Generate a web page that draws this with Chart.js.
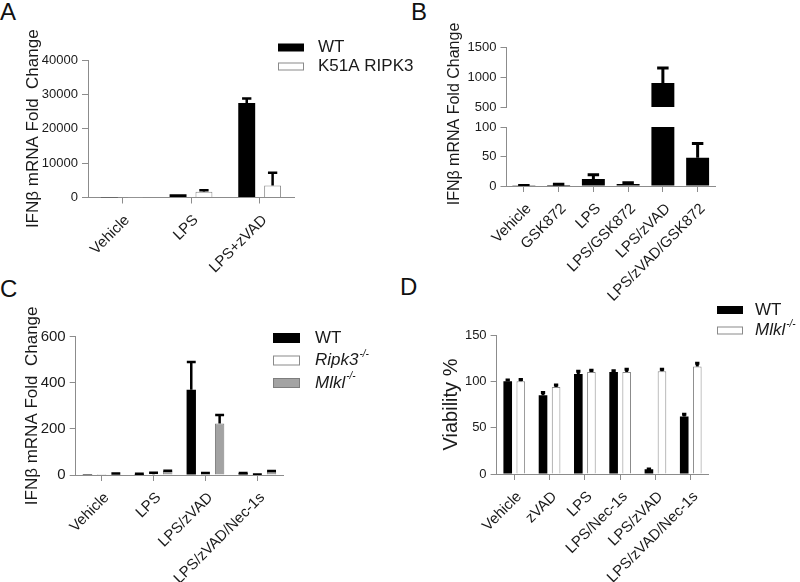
<!DOCTYPE html>
<html>
<head>
<meta charset="utf-8">
<script src="https://cdn.jsdelivr.net/npm/chart.js@4.4.1/dist/chart.umd.min.js"></script>
<style>
  body { margin: 0; background: #fff; }
  #page { position: relative; width: 800px; height: 582px; overflow: hidden; font-family: "Liberation Sans", Arial, sans-serif; color: #111; }
  canvas { position: absolute; }
  .letter { position: absolute; font-size: 24px; line-height: 24px; }
</style>
</head>
<body>
<div id="page">
  <div class="letter" style="left:0px;top:0px">A</div>
  <div class="letter" style="left:411px;top:0px">B</div>
  <div class="letter" style="left:0px;top:277px">C</div>
  <div class="letter" style="left:400px;top:275px">D</div>
  <canvas id="chartA" width="420" height="340" style="left:0;top:0"></canvas>
  <canvas id="chartBtop" width="400" height="330" style="left:400px;top:0"></canvas>
  <canvas id="chartB" width="400" height="330" style="left:400px;top:0"></canvas>
  <canvas id="chartC" width="400" height="320" style="left:0;top:291px"></canvas>
  <canvas id="chartD" width="400" height="320" style="left:400px;top:291px"></canvas>
</div>
<script>
// panel A
const categoriesA = ['Vehicle', 'LPS', 'LPS+zVAD'];
const wtA = [1, 950, 27500];
const wtErrA = [0, 0, 1300];
const k51A = [1, 1650, 3500];
const k51ErrA = [0, 480, 3700];
const yTicksA = [0, 10000, 20000, 30000, 40000];

// panel B (broken axis)
const categoriesB = ['Vehicle', 'GSK872', 'LPS', 'LPS/GSK872', 'LPS/zVAD', 'LPS/zVAD/GSK872'];
const valuesB = [0.5, 1.5, 12, 3.5, 900, 48];
const errorsB = [0.3, 1.5, 7, 2, 250, 24];
const yTicksBtop = [500, 1000, 1500];
const yTicksB = [0, 50, 100];

// panel C
const categoriesC = ['Vehicle', 'LPS', 'LPS/zVAD', 'LPS/zVAD/Nec-1s'];
const wtC = [0.5, 4, 370, 8];
const wtErrC = [0, 1, 120, 1];
const ripkC = [0.5, 3, 4, 2];
const ripkErrC = [0, 7, 5, 0.5];
const mlklC = [2, 17, 223, 16];
const mlklErrC = [4, 1, 37, 1];
const yTicksC = [0, 200, 400, 600];

// panel D
const categoriesD = ['Vehicle', 'zVAD', 'LPS', 'LPS/Nec-1s', 'LPS/zVAD', 'LPS/zVAD/Nec-1s'];
const wtD = [100, 85, 108, 110, 5, 62];
const wtErrD = [1.5, 3, 3, 1.5, 0.5, 2.5];
const mlklD = [100, 94, 110, 110, 111, 116];
const mlklErrD = [2, 2, 2, 3, 2, 3.5];
const yTicksD = [0, 50, 100, 150];

const FONT = '"Liberation Sans", Arial, sans-serif';
const INK = '#1a1a1a';
const AXIS = '#8c8c8c';
const X_AXIS_H = 130;

// upward error bars with a cap
const errorBars = {
  id: 'errorBars',
  afterDatasetsDraw(chart, args, opts) {
    const { ctx, chartArea: a } = chart;
    const y = chart.scales.y;
    ctx.save();
    ctx.beginPath();
    ctx.rect(a.left, a.top - 2, a.right - a.left, a.bottom - a.top + 2);
    ctx.clip();
    ctx.strokeStyle = '#000';
    ctx.lineWidth = opts.width;
    chart.data.datasets.forEach((ds, i) => {
      if (!ds.errors) return;
      chart.getDatasetMeta(i).data.forEach((bar, j) => {
        const e = ds.errors[j];
        if (!e) return;
        const top = y.getPixelForValue(ds.data[j] + e);
        const half = bar.width * opts.cap / 2;
        ctx.beginPath();
        ctx.moveTo(bar.x, bar.y);
        ctx.lineTo(bar.x, top);
        ctx.moveTo(bar.x - half, top);
        ctx.lineTo(bar.x + half, top);
        ctx.stroke();
      });
    });
    ctx.restore();
  }
};

// legend boxes at a fixed spot, with italic names and superscripts
const boxLegend = {
  id: 'boxLegend',
  afterDraw(chart, args, o) {
    const ctx = chart.ctx;
    ctx.save();
    chart.data.datasets.forEach((ds, i) => {
      const cy = o.y + i * o.row;
      ctx.fillStyle = ds.backgroundColor;
      ctx.fillRect(o.x, cy - o.boxH / 2, o.boxW, o.boxH);
      if (ds.borderWidth) {
        ctx.strokeStyle = ds.borderColor;
        ctx.lineWidth = 1;
        ctx.strokeRect(o.x + 0.5, cy - o.boxH / 2 + 0.5, o.boxW - 1, o.boxH - 1);
      }
      const style = ds.italic ? 'italic ' : '';
      const tx = o.x + o.boxW + o.gap;
      ctx.fillStyle = INK;
      ctx.textAlign = 'left';
      ctx.textBaseline = 'middle';
      ctx.font = style + o.size + 'px ' + FONT;
      ctx.fillText(ds.label, tx, cy);
      if (ds.sup) {
        const w = ctx.measureText(ds.label).width;
        ctx.font = style + Math.round(o.size * 0.6) + 'px ' + FONT;
        ctx.fillText(ds.sup, tx + w + 1, cy - o.size * 0.38);
      }
    });
    ctx.restore();
  }
};

// axis title for the broken axis, spanning both segments
const sideTitle = {
  id: 'sideTitle',
  afterDraw(chart, args, o) {
    const ctx = chart.ctx;
    ctx.save();
    ctx.translate(o.x, o.y);
    ctx.rotate(-Math.PI / 2);
    ctx.fillStyle = INK;
    ctx.font = o.size + 'px ' + FONT;
    ctx.textAlign = 'center';
    ctx.textBaseline = 'middle';
    ctx.fillText(o.text, 0, 0);
    ctx.restore();
  }
};

Chart.register(errorBars, boxLegend, sideTitle);

function panel(c) {
  return {
    responsive: false,
    animation: false,
    layout: { padding: { left: c.padL, top: c.padT, right: c.padR, bottom: c.padB } },
    plugins: {
      legend: { display: false },
      tooltip: { enabled: false },
      errorBars: { cap: c.cap, width: c.lw },
      boxLegend: c.legend || false,
      sideTitle: c.side || false
    },
    scales: {
      x: {
        display: c.showX !== false,
        grid: { display: true, offset: false, drawOnChartArea: false, drawTicks: true, tickLength: 6, color: AXIS },
        border: { color: AXIS },
        ticks: { color: INK, font: { size: 15, family: FONT }, minRotation: 45, maxRotation: 45, autoSkip: false, padding: 8, labelOffset: 5 },
        afterFit: s => { if (s.options.display) s.height = X_AXIS_H; }
      },
      y: {
        min: c.ticks[0],
        max: c.ticks[c.ticks.length - 1],
        afterBuildTicks: s => { s.ticks = c.ticks.map(v => ({ value: v })); },
        grid: { display: true, drawOnChartArea: false, drawTicks: true, tickLength: 6, color: AXIS },
        border: { color: AXIS },
        ticks: { color: INK, font: { size: c.tickSize, family: FONT }, padding: 4, callback: v => String(v) },
        title: c.title
          ? { display: true, text: c.title, color: INK, padding: 0, font: { size: c.titleSize, family: FONT } }
          : { display: false },
        afterFit: s => { s.width = c.yW; }
      }
    }
  };
}

const black = { backgroundColor: '#000', borderWidth: 0, clip: 0 };
const white = { backgroundColor: '#fff', borderColor: '#8a8a8a', borderWidth: 1, clip: 0 };
const grey = { backgroundColor: '#a3a3a3', borderColor: '#7d7d7d', borderWidth: 1, clip: 0 };

// A
new Chart(document.getElementById('chartA'), {
  type: 'bar',
  data: {
    labels: categoriesA,
    datasets: [
      Object.assign({ label: 'WT', data: wtA, errors: wtErrA, categoryPercentage: 0.754, barPercentage: 0.654 }, black),
      Object.assign({ label: 'K51A RIPK3', data: k51A, errors: k51ErrA, categoryPercentage: 0.754, barPercentage: 0.654 }, white)
    ]
  },
  options: panel({
    padL: 22.8, yW: 65.2, padT: 60, padR: 126, padB: 340 - 197.5 - X_AXIS_H,
    ticks: yTicksA, tickSize: 13, title: 'IFNβ mRNA Fold  Change', titleSize: 17,
    cap: 0.55, lw: 2.5,
    legend: { x: 278, y: 47.5, row: 19, boxW: 26, boxH: 8, gap: 14, size: 17 }
  })
});

// B upper segment
new Chart(document.getElementById('chartBtop'), {
  type: 'bar',
  data: {
    labels: categoriesB,
    datasets: [Object.assign({ label: 'IFNβ', data: valuesB, errors: errorsB, categoryPercentage: 1, barPercentage: 0.66 }, black)]
  },
  options: panel({
    padL: 0, yW: 106.5, padT: 47, padR: 85, padB: 330 - 107, showX: false,
    ticks: yTicksBtop, tickSize: 13, cap: 0.5, lw: 3
  })
});

// B lower segment
new Chart(document.getElementById('chartB'), {
  type: 'bar',
  data: {
    labels: categoriesB,
    datasets: [Object.assign({ label: 'IFNβ', data: valuesB, errors: errorsB, categoryPercentage: 1, barPercentage: 0.66 }, black)]
  },
  options: panel({
    padL: 0, yW: 106.5, padT: 127, padR: 85, padB: 330 - 186 - X_AXIS_H,
    ticks: yTicksB, tickSize: 13, cap: 0.5, lw: 3,
    side: { text: 'IFNβ mRNA Fold Change', x: 55, y: 114, size: 16 }
  })
});

// C
new Chart(document.getElementById('chartC'), {
  type: 'bar',
  data: {
    labels: categoriesC,
    datasets: [
      Object.assign({ label: 'WT', data: wtC, errors: wtErrC, categoryPercentage: 0.82, barPercentage: 0.66 }, black),
      Object.assign({ label: 'Ripk3', sup: '-/-', italic: true, data: ripkC, errors: ripkErrC, categoryPercentage: 0.82, barPercentage: 0.66 }, white),
      Object.assign({ label: 'Mlkl', sup: '-/-', italic: true, data: mlklC, errors: mlklErrC, categoryPercentage: 0.82, barPercentage: 0.66 }, grey)
    ]
  },
  options: panel({
    padL: 21.8, yW: 53.9, padT: 45.7, padR: 116.7, padB: 320 - 184 - X_AXIS_H,
    ticks: yTicksC, tickSize: 15, title: 'IFNβ mRNA Fold  Change', titleSize: 17,
    cap: 0.95, lw: 2.5,
    legend: { x: 273, y: 47, row: 22.5, boxW: 27, boxH: 10, gap: 15, size: 17 }
  })
});

// D
new Chart(document.getElementById('chartD'), {
  type: 'bar',
  data: {
    labels: categoriesD,
    datasets: [
      Object.assign({ label: 'WT', data: wtD, errors: wtErrD, categoryPercentage: 0.74, barPercentage: 0.66 }, black),
      Object.assign({ label: 'Mlkl', sup: '-/-', italic: true, data: mlklD, errors: mlklErrD, categoryPercentage: 0.74, barPercentage: 0.66 }, white)
    ]
  },
  options: panel({
    padL: 39, yW: 57.6, padT: 44, padR: 91.6, padB: 320 - 183 - X_AXIS_H,
    ticks: yTicksD, tickSize: 13, title: 'Viability %', titleSize: 20,
    cap: 0.5, lw: 3,
    legend: { x: 317, y: 19, row: 20.5, boxW: 26, boxH: 8, gap: 12, size: 17 }
  })
});
</script>
</body>
</html>
